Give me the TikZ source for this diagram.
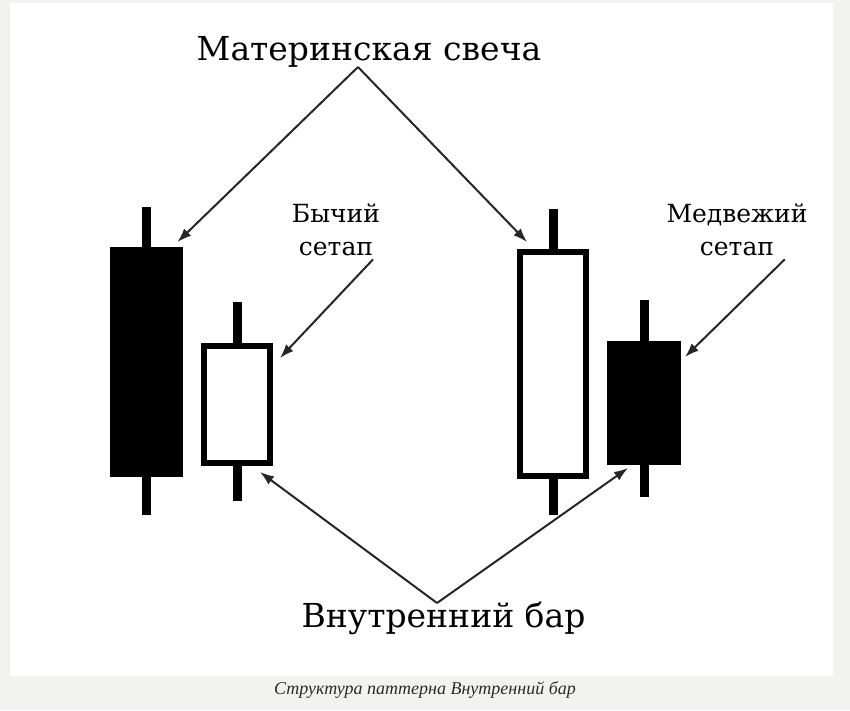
\documentclass[tikz,border=0pt]{standalone}
\usepackage{fontspec}
\setmainfont{DejaVu Serif}
\newfontfamily\capfont{Liberation Serif}
\usetikzlibrary{arrows.meta}
\definecolor{pagebg}{HTML}{F2F3F1}
\definecolor{captxt}{HTML}{2A2A2A}
\begin{document}
\begin{tikzpicture}[x=1pt, y=-1pt, bearbody/.style={fill=black, inner sep=0pt, outer sep=0pt}, bullbody/.style={draw=black, line width=6pt, fill=white, inner sep=0pt, outer sep=0pt}, wick/.style={line width=9pt}, arr/.style={-{Latex[length=14pt,width=10pt]}, line width=2pt, black!85}, big/.style={font=\fontsize{33}{40}\selectfont, inner sep=0pt}, small/.style={font=\fontsize{25}{33}\selectfont, inner sep=0pt, align=center}]
	\useasboundingbox[fill=pagebg] (0,0) rectangle (850,710);
	\fill[white] (10,3) rectangle (833,676);
	\foreach \n/\x/\t/\b/\y/\w/\h/\st in {c1/146/207/515/362/73/230/bearbody, c2/237/302/501/404.5/66/117/bullbody, c3/553/209/515/364/66/224/bullbody, c4/644/300/497/403/74/124/bearbody} {\draw[wick] (\x,\t) -- (\x,\b); \node[\st, minimum width=\w pt, minimum height=\h pt] (\n) at (\x,\y) {};}
	\node[big, anchor=base] (mother) at (369,60) {Материнская свеча};
	\node[big, anchor=base] (inside) at (443.5,627) {Внутренний бар};
	\node[small, anchor=north] (bull) at (336,204) {Бычий\\сетап};
	\node[small, anchor=north] (bear) at (737,204) {Медвежий\\сетап};
	\node[font=\capfont\itshape\fontsize{18}{20}\selectfont, text=captxt, inner sep=0pt] (caption) at (425,690) {Структура паттерна Внутренний бар};
	\draw[arr] ([shift={(-11,7)}]mother.base) -- ([shift={(-5,-5)}]c1.north east);
	\draw[arr] ([shift={(-11,7)}]mother.base) -- ([shift={(7,-10)}]c3.north west);
	\draw[arr] ([shift={(37,3)}]bull.south) -- ([shift={(10,12)}]c2.north east);
	\draw[arr] ([shift={(-23,3)}]bear.south east) -- ([shift={(4,16)}]c4.north east);
	\draw[arr] ([shift={(-6.5,-24)}]inside.base) -- ([shift={(-10,9)}]c2.south east);
	\draw[arr] ([shift={(-6.5,-24)}]inside.base) -- ([shift={(21,3)}]c4.south west);
\end{tikzpicture}
\end{document}
